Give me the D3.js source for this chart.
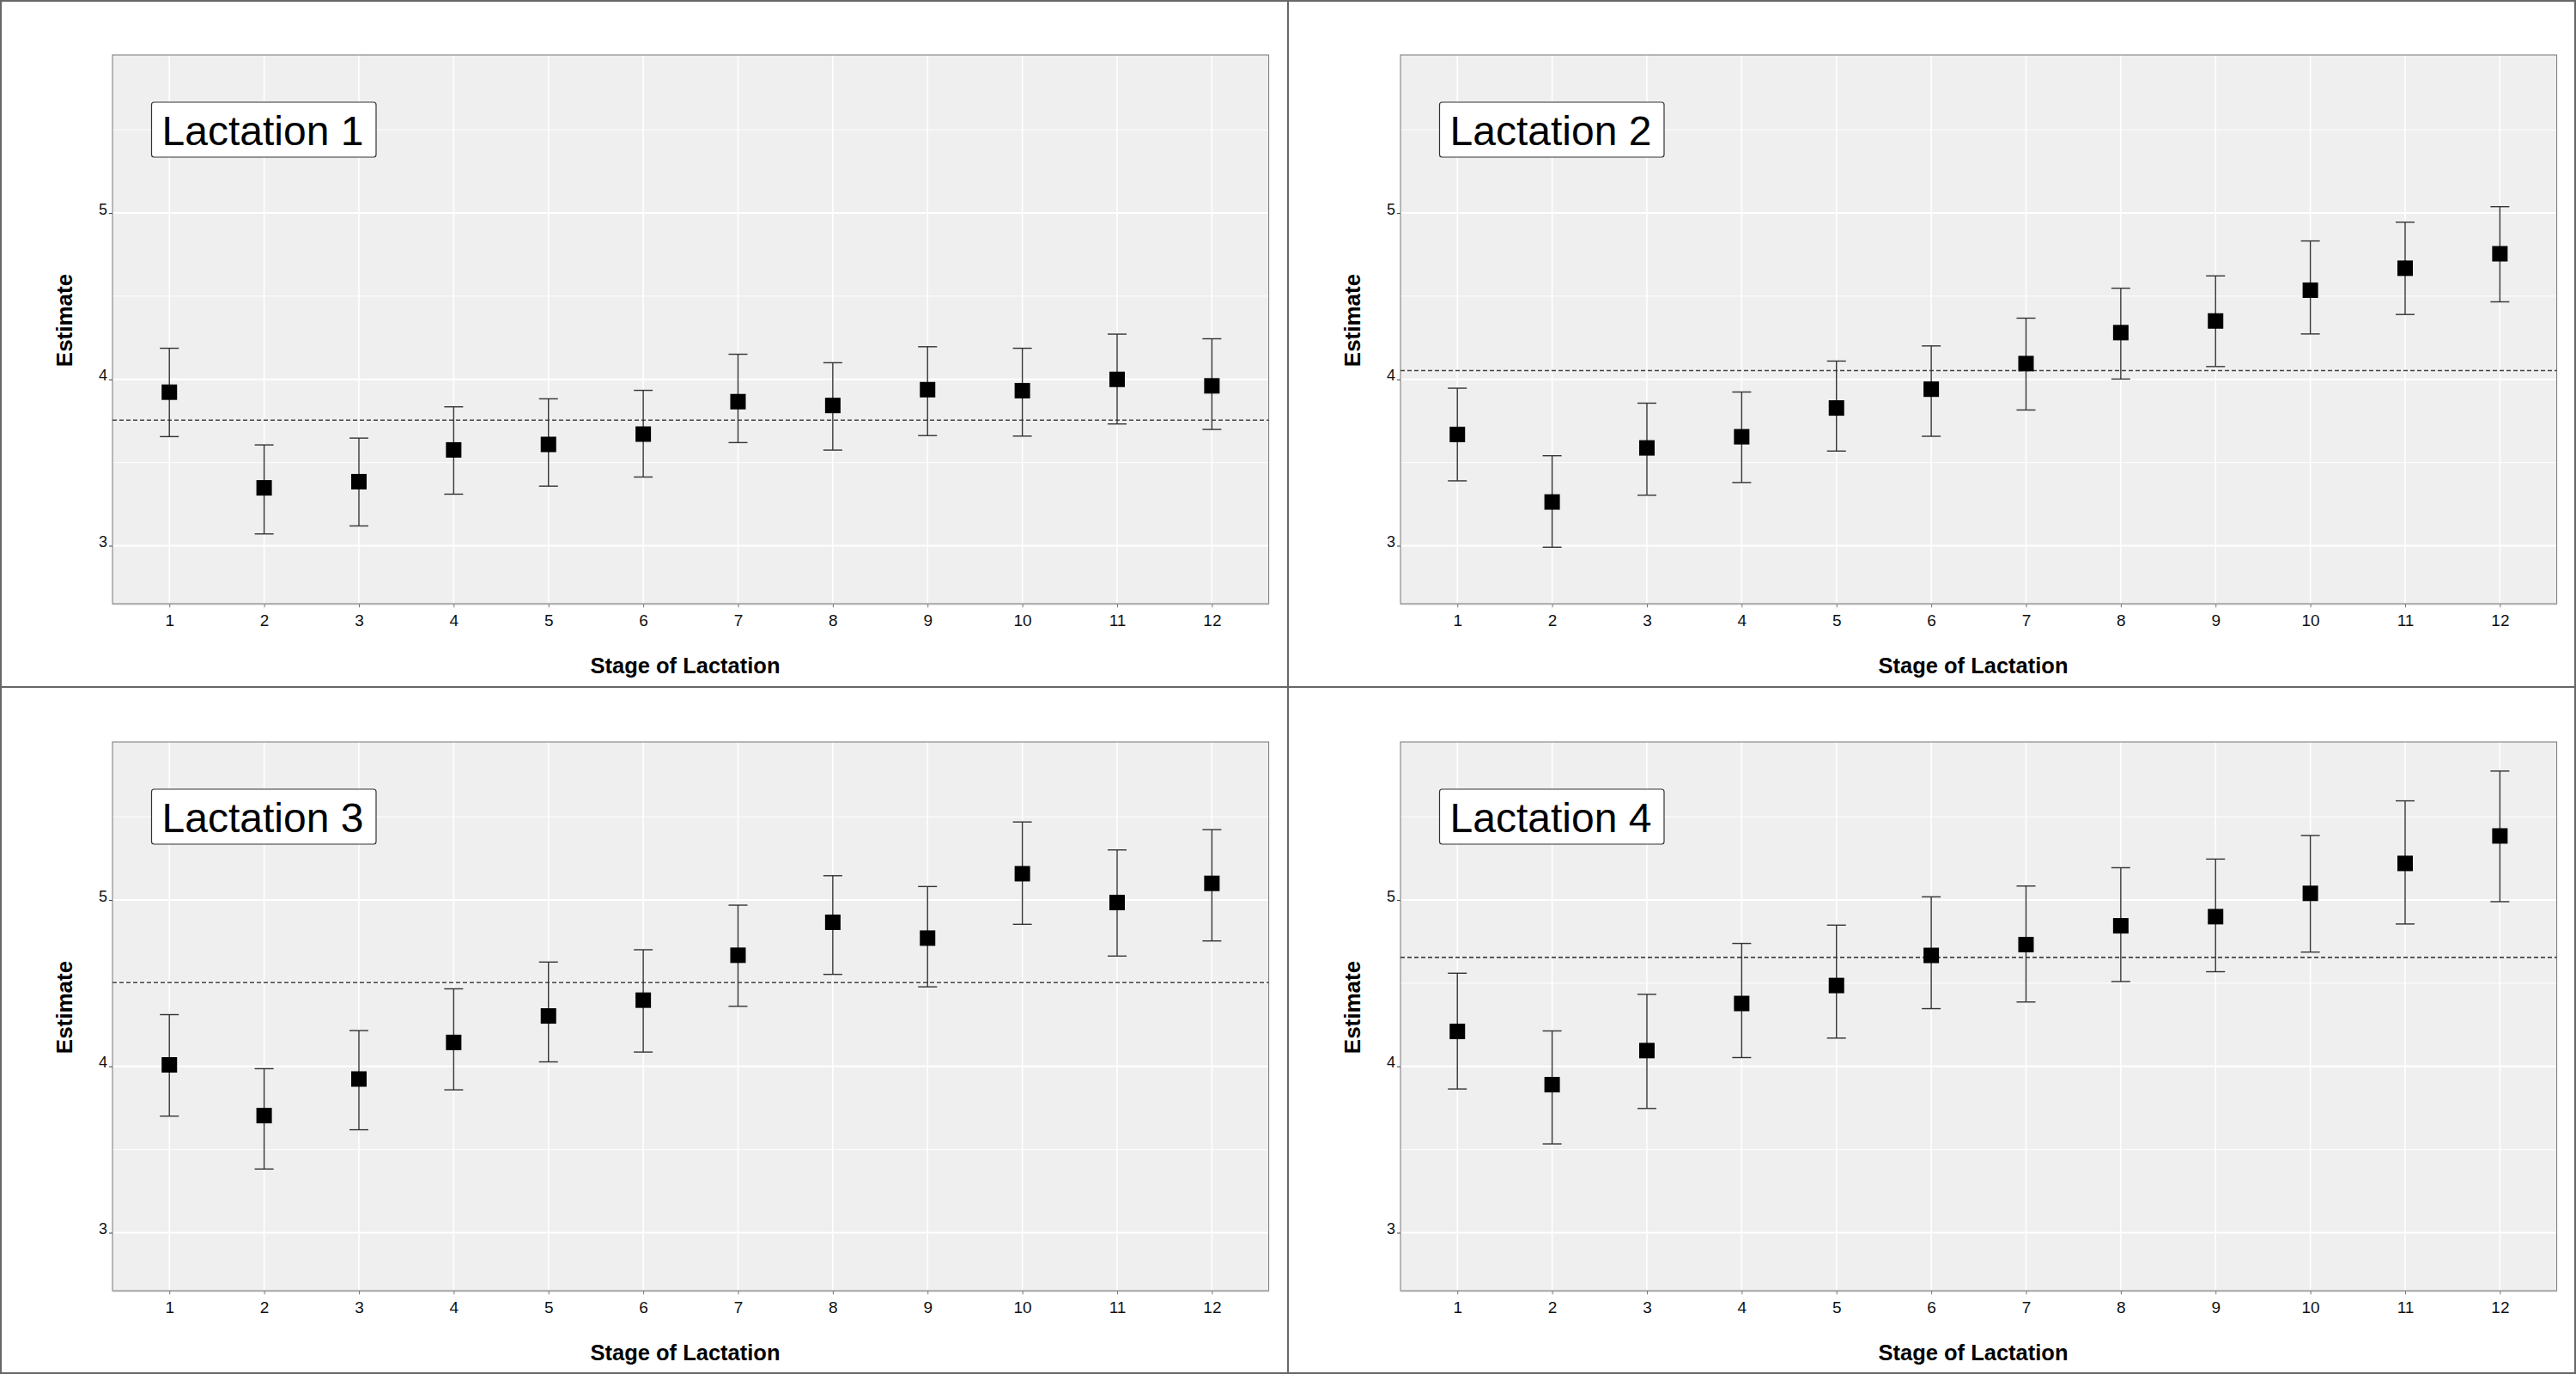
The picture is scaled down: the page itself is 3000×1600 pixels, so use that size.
<!DOCTYPE html>
<html>
<head>
<meta charset="utf-8">
<script src="https://cdn.jsdelivr.net/npm/d3@7"></script>
<style>
  body { margin: 0; background: #fff; }
  svg { display: block; font-family: "Liberation Sans", Arial, sans-serif; }
</style>
</head>
<body>
<div id="chart"></div>
<script>
// Estimates by stage of lactation, one set per lactation number
const STAGES = [1, 2, 3, 4, 5, 6, 7, 8, 9, 10, 11, 12];
const PANEL_TITLES = ["Lactation 1", "Lactation 2", "Lactation 3", "Lactation 4"];

const lact1Est = [3.923, 3.348, 3.385, 3.576, 3.609, 3.671, 3.866, 3.843, 3.938, 3.932, 4.000, 3.961];
const lact1Lo  = [3.656, 3.071, 3.119, 3.310, 3.358, 3.413, 3.620, 3.575, 3.662, 3.659, 3.732, 3.699];
const lact1Hi  = [4.187, 3.606, 3.647, 3.835, 3.883, 3.934, 4.151, 4.100, 4.196, 4.187, 4.272, 4.244];

const lact2Est = [3.669, 3.263, 3.588, 3.655, 3.828, 3.941, 4.095, 4.281, 4.351, 4.536, 4.668, 4.755];
const lact2Lo  = [3.390, 2.991, 3.304, 3.380, 3.569, 3.658, 3.816, 4.002, 4.077, 4.273, 4.390, 4.466];
const lact2Hi  = [3.947, 3.541, 3.857, 3.924, 4.110, 4.201, 4.368, 4.548, 4.622, 4.832, 4.945, 5.038];

const lact3Est = [4.009, 3.704, 3.924, 4.144, 4.303, 4.398, 4.668, 4.866, 4.771, 5.158, 4.985, 5.100];
const lact3Lo  = [3.701, 3.383, 3.619, 3.859, 4.027, 4.086, 4.361, 4.553, 4.478, 4.854, 4.663, 4.754];
const lact3Hi  = [4.311, 3.986, 4.215, 4.466, 4.627, 4.701, 4.969, 5.146, 5.081, 5.469, 5.301, 5.423];

const lact4Est = [4.210, 3.890, 4.095, 4.378, 4.486, 4.667, 4.732, 4.845, 4.900, 5.040, 5.220, 5.385];
const lact4Lo  = [3.864, 3.534, 3.747, 4.053, 4.170, 4.347, 4.387, 4.510, 4.569, 4.687, 4.856, 4.990];
const lact4Hi  = [4.560, 4.213, 4.433, 4.739, 4.849, 5.019, 5.084, 5.194, 5.246, 5.388, 5.596, 5.775];

// overall mean per lactation (dashed line)
const MEAN_LINES = [3.755, 4.053, 4.503, 4.655];

const Y_MAJOR = [3, 4, 5];
const Y_MINOR = [3.5, 4.5, 5.5];

const WIDTH = 3000;
const HEIGHT = 1600;
const PANEL_W = 1500;
const PANEL_H = 800;
const PLOT = { left: 131, right: 1477.6, top: 64, bottom: 703.3 };

const SVG = d3.select("#chart").append("svg")
    .attr("width", WIDTH)
    .attr("height", HEIGHT);

SVG.append("rect").attr("width", WIDTH).attr("height", HEIGHT).attr("fill", "#fff");

const escalaX = d3.scaleLinear().domain([0.4, 12.6]).range([PLOT.left, PLOT.right]);
const escalaY = d3.scaleLinear().domain([2.65, 5.95]).range([PLOT.bottom, PLOT.top]);

const SQUARE = 18;
const CAP = 22;

const paneles = [
    { est: lact1Est, lo: lact1Lo, hi: lact1Hi },
    { est: lact2Est, lo: lact2Lo, hi: lact2Hi },
    { est: lact3Est, lo: lact3Lo, hi: lact3Hi },
    { est: lact4Est, lo: lact4Lo, hi: lact4Hi },
];

paneles.forEach((p, i) => {
    const col = i % 2;
    const row = Math.floor(i / 2);
    const g = SVG.append("g").attr("transform", `translate(${col * PANEL_W},${row * PANEL_H})`);

    const datos = STAGES.map((s, k) => ({ stage: s, est: p.est[k], lo: p.lo[k], hi: p.hi[k] }));

    // fondo del panel
    g.append("rect")
        .attr("x", PLOT.left).attr("y", PLOT.top)
        .attr("width", PLOT.right - PLOT.left).attr("height", PLOT.bottom - PLOT.top)
        .attr("fill", "#efefef");

    // grilla
    g.selectAll("line.minor").data(Y_MINOR).join("line")
        .attr("x1", PLOT.left).attr("x2", PLOT.right)
        .attr("y1", d => escalaY(d)).attr("y2", d => escalaY(d))
        .attr("stroke", "#fff").attr("stroke-width", 1);
    g.selectAll("line.major").data(Y_MAJOR).join("line")
        .attr("x1", PLOT.left).attr("x2", PLOT.right)
        .attr("y1", d => escalaY(d)).attr("y2", d => escalaY(d))
        .attr("stroke", "#fff").attr("stroke-width", 2);
    g.selectAll("line.vgrid").data(STAGES).join("line")
        .attr("x1", d => escalaX(d)).attr("x2", d => escalaX(d))
        .attr("y1", PLOT.top).attr("y2", PLOT.bottom)
        .attr("stroke", "#fff").attr("stroke-width", 1.6);

    // borde del panel
    g.append("rect")
        .attr("x", PLOT.left).attr("y", PLOT.top)
        .attr("width", PLOT.right - PLOT.left).attr("height", PLOT.bottom - PLOT.top)
        .attr("fill", "none").attr("stroke", "#777").attr("stroke-width", 1);
    g.append("line")
        .attr("x1", PLOT.left).attr("x2", PLOT.right)
        .attr("y1", PLOT.bottom).attr("y2", PLOT.bottom)
        .attr("stroke", "#aaa").attr("stroke-width", 2);

    // ejes
    const ejeY = g.append("g")
        .attr("transform", `translate(${PLOT.left},0)`)
        .call(d3.axisLeft(escalaY).tickValues(Y_MAJOR).tickSize(4).tickPadding(2).tickFormat(d3.format("d")));
    ejeY.select(".domain").remove();
    ejeY.selectAll("line").attr("stroke", "#444");
    ejeY.selectAll("text").attr("font-size", 18).attr("fill", "#111").attr("dy", "0.06em")
        .attr("font-family", "Liberation Sans, Arial, sans-serif");

    const ejeX = g.append("g")
        .attr("transform", `translate(0,${PLOT.bottom})`)
        .call(d3.axisBottom(escalaX).tickValues(STAGES).tickSize(4).tickPadding(8).tickFormat(d3.format("d")));
    ejeX.select(".domain").remove();
    ejeX.selectAll("line").attr("stroke", "#777");
    ejeX.selectAll("text").attr("font-size", 19).attr("fill", "#111")
        .attr("font-family", "Liberation Sans, Arial, sans-serif");

    // linea de referencia
    g.append("line")
        .attr("x1", PLOT.left).attr("x2", PLOT.right)
        .attr("y1", escalaY(MEAN_LINES[i])).attr("y2", escalaY(MEAN_LINES[i]))
        .attr("stroke", "#444").attr("stroke-width", 1.6)
        .attr("stroke-dasharray", "5,3");

    // barras de error
    const barras = g.selectAll("g.bar").data(datos).join("g").attr("class", "bar");
    barras.append("line")
        .attr("x1", d => escalaX(d.stage)).attr("x2", d => escalaX(d.stage))
        .attr("y1", d => escalaY(d.lo)).attr("y2", d => escalaY(d.hi))
        .attr("stroke", "#333").attr("stroke-width", 1.4);
    barras.append("line")
        .attr("x1", d => escalaX(d.stage) - CAP / 2).attr("x2", d => escalaX(d.stage) + CAP / 2)
        .attr("y1", d => escalaY(d.hi)).attr("y2", d => escalaY(d.hi))
        .attr("stroke", "#333").attr("stroke-width", 1.4);
    barras.append("line")
        .attr("x1", d => escalaX(d.stage) - CAP / 2).attr("x2", d => escalaX(d.stage) + CAP / 2)
        .attr("y1", d => escalaY(d.lo)).attr("y2", d => escalaY(d.lo))
        .attr("stroke", "#333").attr("stroke-width", 1.4);
    barras.append("rect")
        .attr("x", d => escalaX(d.stage) - SQUARE / 2)
        .attr("y", d => escalaY(d.est) - SQUARE / 2)
        .attr("width", SQUARE).attr("height", SQUARE)
        .attr("fill", "#000");

    // etiqueta del panel
    g.append("rect")
        .attr("x", 176.5).attr("y", 119).attr("width", 261.5).attr("height", 64)
        .attr("rx", 3).attr("ry", 3)
        .attr("fill", "#fff").attr("stroke", "#333").attr("stroke-width", 1.2);
    g.append("text")
        .attr("x", 306).attr("y", 169)
        .attr("text-anchor", "middle")
        .attr("font-size", 48)
        .attr("fill", "#000")
        .text(PANEL_TITLES[i]);

    // titulos de ejes
    g.append("text")
        .attr("transform", `translate(84,373) rotate(-90)`)
        .attr("text-anchor", "middle")
        .attr("font-size", 26).attr("font-weight", "bold")
        .attr("fill", "#000")
        .text("Estimate");
    g.append("text")
        .attr("x", 798).attr("y", 784)
        .attr("text-anchor", "middle")
        .attr("font-size", 25.5).attr("font-weight", "bold")
        .attr("fill", "#000")
        .text("Stage of Lactation");
});

// marcos entre paneles
SVG.append("rect")
    .attr("x", 1).attr("y", 1).attr("width", WIDTH - 2).attr("height", HEIGHT - 2)
    .attr("fill", "none").attr("stroke", "#666").attr("stroke-width", 2);
SVG.append("line").attr("x1", PANEL_W).attr("x2", PANEL_W).attr("y1", 0).attr("y2", HEIGHT)
    .attr("stroke", "#666").attr("stroke-width", 2);
SVG.append("line").attr("x1", 0).attr("x2", WIDTH).attr("y1", PANEL_H).attr("y2", PANEL_H)
    .attr("stroke", "#666").attr("stroke-width", 2);
</script>
</body>
</html>
